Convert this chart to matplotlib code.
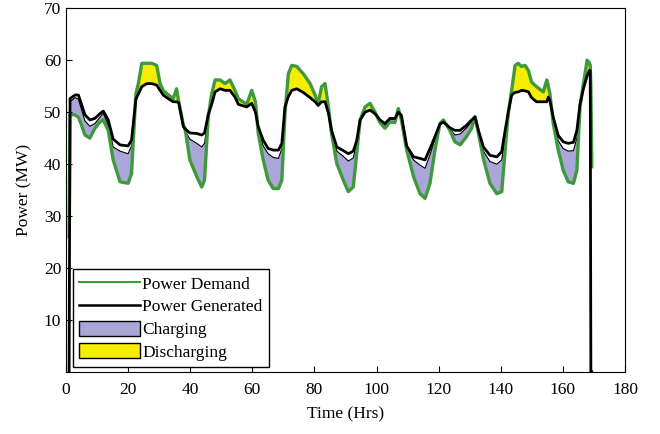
import numpy as np
import matplotlib
matplotlib.use("Agg")
import matplotlib.pyplot as plt
from matplotlib.lines import Line2D
from matplotlib.patches import Patch

plt.rcParams['font.family'] = ['Liberation Serif', 'DejaVu Serif']

# 时间 (h)
t = [1.0, 1.3, 2.9, 4.0, 5.0, 6.1, 7.7, 9.3, 10.9, 12.0, 13.6, 15.2, 17.4, 20.0, 21.1,
     22.5, 23.3, 24.4, 26.0, 27.6, 29.2, 30.3, 31.3, 32.4, 34.5, 35.6, 36.3, 37.8,
     38.3, 39.9, 42.1, 43.7, 44.6, 45.8, 46.9, 48.0, 49.6, 51.2, 52.8, 54.4, 55.5,
     58.2, 59.8, 61.0, 61.9, 63.5, 65.1, 66.7, 68.4, 69.5, 70.5, 71.6, 72.7, 74.3,
     76.4, 78.6, 80.2, 81.2, 82.3, 83.4, 84.5, 85.5, 87.2, 89.3, 90.9, 92.5, 93.6,
     94.7, 96.3, 97.9, 99.5, 101.1, 102.7, 104.3, 105.9, 107.0, 108.0, 109.7, 111.9,
     114.0, 115.6, 117.2, 118.8, 120.4, 121.5, 123.6, 125.2, 126.9, 129.0, 130.6,
     131.7, 132.8, 134.4, 136.5, 138.7, 140.3, 141.4, 142.4, 143.5, 144.6, 145.6,
     146.7, 147.8, 148.9, 149.9, 151.5, 153.7, 154.8, 155.3, 155.8, 156.9, 158.5,
     160.1, 161.7, 163.4, 164.5, 165.5, 166.6, 167.8, 168.5, 168.8, 169.0, 169.3]

# 负荷需求
demand = [26.0, 49.5, 49.5, 49.0, 47.5, 45.6, 45.0, 46.9, 48.1, 48.5, 46.5, 40.8, 36.6, 36.3, 38.2,
          53.5, 55.5, 59.4, 59.4, 59.4, 59.0, 55.5, 54.2, 53.6, 52.6, 54.5, 52.0, 47.5,
          46.9, 40.8, 37.6, 35.6, 36.9, 49.1, 53.5, 56.2, 56.2, 55.5, 56.2, 54.2, 52.6,
          51.5, 54.2, 52.0, 45.9, 40.8, 36.9, 35.3, 35.3, 36.9, 49.7, 57.4, 59.0, 58.8,
          57.4, 55.5, 53.3, 51.7, 54.9, 55.5, 51.0, 45.9, 40.1, 36.9, 34.7, 35.6, 42.0,
          48.5, 51.0, 51.7, 50.0, 48.0, 46.9, 48.1, 48.0, 50.7, 48.5, 42.7, 37.6,
          34.3, 33.4, 36.3, 42.7, 47.8, 48.5, 46.5, 44.3, 43.7, 45.3, 46.9,
          49.1, 46.0, 41.0, 36.3, 34.3, 34.7, 42.7, 49.7, 54.2, 59.0, 59.4,
          58.8, 59.0, 58.0, 55.8, 54.9, 53.9, 56.2, 55.0, 53.6, 47.8, 42.7,
          38.8, 36.6, 36.3, 38.8, 51.0, 55.5, 60.0, 59.5, 59.0, 55.0, 39.5]

# 发电功率
generated = [0.0, 52.6, 53.3, 53.3, 51.5, 49.5, 48.5, 48.8, 49.7, 50.2, 48.5, 44.8, 43.7, 43.5, 44.6,
             52.5, 53.5, 54.9, 55.5, 55.5, 55.2, 54.2, 53.3, 52.8, 52.0, 52.0, 51.8, 47.2,
             46.8, 46.0, 45.9, 45.6, 46.0, 49.5, 51.5, 53.9, 54.5, 54.2, 54.2, 52.9, 51.5,
             51.0, 51.7, 50.0, 47.2, 44.6, 43.0, 42.7, 42.7, 44.0, 51.0, 53.0, 54.2, 54.5,
             53.8, 52.8, 52.0, 51.3, 52.0, 52.0, 49.8, 46.5, 43.3, 42.6, 42.0, 42.5, 44.5,
             48.5, 50.0, 50.4, 49.7, 48.5, 47.8, 48.8, 48.8, 50.0, 49.4, 43.5, 41.4,
             41.1, 40.8, 43.0, 45.3, 47.7, 48.1, 47.0, 46.5, 46.5, 47.5, 48.5,
             49.1, 46.5, 43.3, 41.7, 41.4, 42.4, 46.5, 50.0, 53.3, 53.8, 53.9,
             54.2, 54.1, 53.9, 52.8, 52.0, 52.0, 52.0, 52.9, 52.3, 49.0, 45.5,
             44.3, 44.0, 44.2, 46.5, 51.5, 54.5, 57.0, 58.0, 58.0, 0.0, 0.0]

# 充电区上沿
charge_top = [0.0, 52.0, 52.8, 52.5, 50.5, 48.3, 47.3, 47.8, 49.0, 49.8, 47.5, 43.3, 42.5, 42.0, 43.5,
              52.5, 53.5, 54.9, 55.5, 55.5, 55.2, 54.2, 53.3, 52.8, 52.0, 52.0, 51.8, 47.2,
              46.5, 44.8, 44.0, 43.3, 44.0, 49.0, 51.5, 53.9, 54.5, 54.2, 54.2, 52.9, 51.5,
              51.0, 51.7, 50.0, 46.5, 43.5, 42.0, 41.3, 41.1, 43.0, 50.5, 53.0, 54.2, 54.5,
              53.8, 52.8, 52.0, 51.3, 52.0, 52.0, 49.8, 46.0, 42.5, 41.5, 40.6, 41.2, 44.0,
              48.5, 50.0, 50.4, 49.7, 48.3, 47.5, 48.6, 48.6, 50.0, 49.4, 43.2, 40.8,
              39.8, 39.2, 41.8, 44.8, 47.7, 48.1, 46.8, 45.6, 45.8, 47.0, 48.2,
              49.1, 46.3, 42.5, 40.5, 40.0, 40.8, 45.5, 49.8, 53.3, 53.8, 53.9,
              54.2, 54.1, 53.9, 52.8, 52.0, 52.0, 52.0, 52.9, 52.3, 48.5, 44.5,
              43.0, 42.5, 42.6, 45.0, 51.2, 54.5, 57.0, 58.0, 58.0, 0.0, 0.0]

t = np.array(t)
demand = np.array(demand)
generated = np.array(generated)
charge_top = np.array(charge_top)

fig, ax = plt.subplots(figsize=(6.6, 4.34), dpi=100)
fig.subplots_adjust(left=0.1, right=0.947, bottom=0.143, top=0.981)

inner = (t > 1.2) & (t < 168.6)
ax.fill_between(t, demand, charge_top, where=inner & (demand < charge_top),
                interpolate=True, color='#aaa7d8', lw=0)
ax.fill_between(t, generated, demand, where=inner & (demand > generated),
                interpolate=True, color='#f5ee00', lw=0)
ax.plot(t[1:-2], charge_top[1:-2], color='black', lw=0.8)
ax.plot(t, demand, color='#3f9a3f', lw=2.4)
ax.plot(t, generated, color='black', lw=2.0)

ax.set_xlim(0, 180)
ax.set_ylim(0, 70)
ax.set_xticks(range(0, 181, 20))
ax.set_yticks(range(10, 71, 10))
ax.tick_params(direction='in', labelsize=12.5, length=4)
ax.tick_params(axis='x', pad=7)
ax.set_xlabel('Time (Hrs)', fontsize=12.5, labelpad=6)
ax.set_ylabel('Power (MW)', fontsize=12.5, labelpad=8)

handles = [Line2D([], [], color='#3f9a3f', lw=1.5),
           Line2D([], [], color='black', lw=1.8),
           Patch(facecolor='#aaa7d8', edgecolor='black', lw=1),
           Patch(facecolor='#f5ee00', edgecolor='black', lw=1)]
labels = ['Power Demand', 'Power Generated', 'Charging', 'Discharging']
leg = ax.legend(handles, labels, loc='lower left', bbox_to_anchor=(0.0125, 0.014),
                fontsize=12.5, fancybox=False, edgecolor='black', framealpha=1,
                handlelength=3.5, handleheight=0.95, handletextpad=0.15,
                labelspacing=0.3, borderpad=0.35, borderaxespad=0)
leg.get_frame().set_linewidth(1.0)

plt.savefig('out.png')
